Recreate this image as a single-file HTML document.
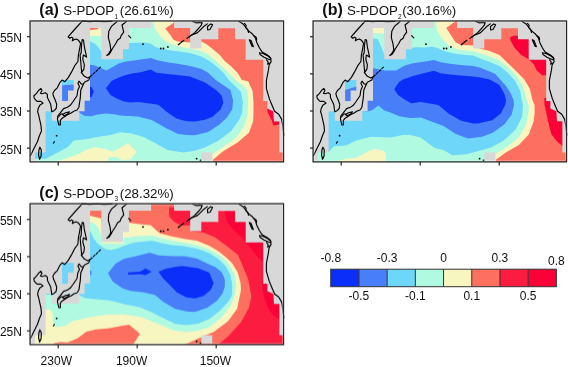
<!DOCTYPE html><html><head><meta charset="utf-8"><style>html,body{margin:0;padding:0;background:#fff;width:568px;height:367px;overflow:hidden}svg{display:block}</style></head><body>
<svg width="568" height="367" viewBox="0 0 568 367">
<rect width="568" height="367" fill="#fff"/>
<g transform="translate(0,0)">
<rect x="30" y="21" width="253" height="141" fill="#D8D8D8"/>
<clipPath id="ma"><polygon points="35.0,161.9 35.0,152.5 45.6,152.5 45.6,111.2 84.6,111.2 84.6,100.7 90.0,100.7 90.0,28.0 151.1,28.0 151.1,21.0 174.1,21.0 174.1,28.0 190.2,28.0 190.2,48.6 201.3,48.6 201.3,39.3 218.3,39.3 218.3,28.2 235.0,28.2 235.0,39.3 245.7,39.3 245.7,59.7 263.2,59.7 263.2,100.9 267.4,100.9 267.4,108.5 273.4,111.3 274.0,121.2 279.4,121.2 279.4,152.6 283.5,152.6 283.5,161.9 35.0,161.9"/></clipPath>
<g clip-path="url(#ma)" style="will-change:transform">
<rect x="0" y="0" width="600" height="400" fill="#FD6F5E"/>
<polygon points="267.4,108.5 273.4,111.3 274.0,121.6 279.4,121.6 279.4,124.5 273.4,125.5 271.8,120.5 269.6,116.2 267.4,111.8" fill="#FA0238"/>
<polygon points="20.0,30.3 89.8,30.3 98.2,29.0 98.2,27.0 101.3,27.0 101.3,15.0 174.0,15.0 173.4,22.9 165.2,28.4 170.1,34.4 173.4,39.8 177.7,41.4 189.7,42.5 201.5,41.6 207.0,44.4 213.5,49.8 220.1,55.3 224.4,60.7 231.0,66.2 237.5,72.7 241.9,80.0 248.2,81.3 252.6,91.0 253.5,102.6 253.5,113.2 253.1,121.4 249.0,132.8 237.6,142.6 222.8,151.6 213.0,159.8 212.0,170.0 20.0,170.0" fill="#F8F6C0"/>
<polygon points="20.0,36.0 101.0,36.0 101.3,15.0 153.2,15.0 154.8,28.9 159.2,34.4 163.5,39.8 169.0,43.1 177.7,46.5 189.7,48.5 195.0,49.6 201.5,50.9 209.2,55.3 216.8,61.8 224.4,68.4 231.0,74.9 235.3,80.0 241.1,84.0 247.3,90.1 248.2,102.6 247.4,114.8 244.1,126.3 235.9,137.7 224.5,145.9 212.2,154.1 210.0,170.0 20.0,170.0" fill="#B0FAE2"/>
<polygon points="58.0,165.0 59.5,160.8 68.1,157.7 78.0,154.3 86.1,149.9 94.9,147.3 105.5,149.0 112.5,151.7 121.3,147.3 127.9,142.9 136.7,151.7 130.6,159.6 122.0,160.0 117.8,157.5 109.0,157.5 106.0,165.0" fill="#F8F6C0"/>
<polygon points="109.0,165.0 109.0,157.3 117.8,157.3 119.0,165.0" fill="#B0FAE2"/>
<polygon points="20.0,41.6 90.3,41.6 94.6,43.4 98.3,47.1 101.3,51.4 103.0,51.4 103.0,43.0 128.9,43.0 145.0,42.5 150.5,43.6 155.9,47.2 166.8,49.8 177.7,51.2 190.0,53.0 195.0,54.4 201.5,56.4 209.2,60.7 216.8,66.7 223.4,72.7 228.8,80.0 234.0,85.0 241.1,91.9 242.9,102.6 242.0,113.2 239.2,119.7 231.0,131.2 217.9,141.0 204.8,147.6 195.0,150.8 183.4,152.5 167.5,149.9 155.2,142.9 142.9,136.7 130.6,133.2 120.0,132.3 110.7,134.9 98.4,136.7 86.1,139.3 78.0,140.0 73.8,140.5 68.1,146.7 57.9,152.5 45.6,158.7 20.0,158.7" fill="#6ED6F8"/>
<polygon points="84.0,64.5 90.2,64.8 95.0,65.6 101.2,68.3 106.5,70.5 112.6,67.0 118.8,63.4 125.9,61.5 132.0,60.8 140.6,59.6 151.1,58.0 156.4,60.1 167.0,62.3 177.5,63.8 190.0,66.0 195.0,67.3 201.5,68.9 208.1,72.7 215.7,80.0 221.6,84.0 230.5,90.1 233.1,100.8 232.2,109.6 226.9,117.5 219.5,124.6 208.1,132.0 195.0,135.3 186.9,134.9 178.1,134.0 165.8,127.9 151.7,120.0 137.6,116.4 120.0,115.6 116.2,114.6 106.4,113.5 97.6,114.6 91.1,116.3 84.5,115.7 79.1,112.4 75.0,112.0 75.0,64.0" fill="#487EF7"/>
<polygon points="105.9,88.3 111.5,81.0 118.8,77.5 125.0,75.3 132.0,73.6 140.6,72.3 150.6,69.6 156.4,72.8 167.0,73.9 177.5,74.9 190.0,76.5 205.0,82.5 216.0,90.0 221.6,95.5 223.4,102.6 220.7,109.6 216.3,113.2 212.7,116.7 204.8,119.7 195.0,121.5 187.3,121.2 181.6,120.0 176.6,118.4 169.3,113.8 166.0,111.3 158.7,105.0 155.4,104.2 138.0,102.1 130.3,102.6 123.8,101.5 116.2,98.3 110.5,95.0" fill="#0B2FF8"/>
<polygon points="89.0,86.5 91.5,87.0 93.8,91.5 91.5,97.2 89.0,97.2" fill="#0B2FF8"/>
</g>
<polygon points="62.1,79.9 73.7,79.9 73.7,84.4 62.1,85.2" fill="#6ED6F8"/>
<polygon points="62.1,85.2 73.7,84.4 73.7,90.5 68.0,90.5 68.0,101.0 62.1,101.0" fill="#487EF7"/>
<polygon points="101.3,27.0 128.9,27.0 128.9,49.2 123.0,49.2 123.0,59.3 101.3,59.3" fill="#D8D8D8"/>
<polygon points="51.8,111.2 79.3,111.2 79.3,120.8 51.8,120.8" fill="#D8D8D8"/>
<polygon points="201.3,152.5 212.3,152.5 212.3,160.8 201.3,160.8" fill="#D8D8D8"/>
<g>
<polyline points="112.0,21.4 104.0,21.6 96.0,21.3 90.0,21.6 82.2,21.1 75.0,29.0 68.1,36.9 69.7,38.3 71.5,37.2 73.0,38.0 72.3,40.8 74.5,39.5 76.3,39.1 78.4,40.2 80.6,43.4 79.5,49.4 78.4,55.0 77.9,61.5 74.6,65.9 71.3,72.4 68.1,77.9 64.8,81.7 62.1,80.1 60.0,82.4 58.9,84.5 57.3,87.8 54.5,90.5 52.9,93.3 53.4,96.0 55.1,99.8 56.7,104.2 56.2,108.5 54.0,110.7 51.8,111.8 51.3,108.5 50.7,104.2 49.1,100.9 47.4,97.6 47.4,94.4 45.3,92.7 42.0,93.8 40.4,93.3 42.0,90.5 40.9,88.4 38.5,90.5 36.5,93.3 33.8,96.0 34.4,98.7 37.1,101.4 40.9,101.4 43.1,103.1 39.8,105.3 38.2,108.5 37.6,111.8 38.7,115.1 39.3,118.0 40.9,125.0 41.2,127.9 41.5,131.0 39.4,135.7 37.5,141.5 33.7,149.1 30.6,155.5" fill="none" stroke="#000" stroke-width="1.15" stroke-linejoin="round" stroke-linecap="round"/>
<polyline points="82.2,39.6 83.5,40.0 84.4,47.2 86.6,57.1 83.3,55.0 82.8,59.4 84.4,64.8 83.9,69.2 81.7,72.4 81.2,67.0 80.1,55.0 81.2,52.7 81.5,45.0 82.2,39.6" fill="none" stroke="#000" stroke-width="1.15" stroke-linejoin="round" stroke-linecap="round"/>
<polyline points="117.1,21.5 111.4,26.4 108.8,31.2 108.3,37.4 110.1,44.4 110.8,50.0 108.5,54.0 106.8,55.5 108.8,54.6 111.0,51.5 112.3,48.8 115.8,43.5 117.6,40.0 120.2,38.2 121.1,35.6 123.7,32.1 122.9,28.6 122.0,25.0 126.4,21.5" fill="none" stroke="#000" stroke-width="1.15" stroke-linejoin="round" stroke-linecap="round"/>
<polyline points="81.2,72.4 84.4,76.3 87.7,77.9 89.9,76.8 88.8,80.1 84.4,82.2 83.3,84.4 80.8,90.0 80.3,97.6 78.9,107.2 77.0,110.0 74.1,111.0 71.2,112.9 67.4,114.8 64.5,116.7 61.7,118.6 60.3,120.5 60.3,125.0 58.8,125.0 57.4,118.6 57.9,115.8 60.3,112.9 63.6,108.6 67.4,107.2 70.3,105.3 73.1,101.5 77.0,95.7 77.9,90.0 79.5,86.6 77.9,83.3 79.0,81.2 81.2,83.9 83.3,84.4" fill="none" stroke="#000" stroke-width="1.15" stroke-linejoin="round" stroke-linecap="round"/>
<polyline points="62.5,114.5 65.5,112.8 69.5,111.8 67.5,114.0 64.0,115.8 62.5,114.5" fill="none" stroke="#000" stroke-width="1.15" stroke-linejoin="round" stroke-linecap="round"/>
<polyline points="58.5,117.0 60.5,114.5 62.0,113.8" fill="none" stroke="#000" stroke-width="1.15" stroke-linejoin="round" stroke-linecap="round"/>
<polyline points="39.9,147.2 41.3,150.0 41.1,156.0 39.6,159.3 38.6,155.0 38.9,150.0 39.9,147.2" fill="none" stroke="#000" stroke-width="1.15" stroke-linejoin="round" stroke-linecap="round"/>
<polyline points="239.1,21.4 243.2,24.1 245.9,27.5 248.6,30.9 252.7,34.3 255.4,37.8 256.8,42.5 259.5,48.0 262.2,52.1 267.0,54.8 270.4,57.5 271.1,61.6 269.1,65.0 268.4,70.2 266.4,80.5 266.4,88.7 269.4,98.9 271.5,104.0 274.6,111.2 278.7,114.2 281.7,119.4 282.7,125.5 283.8,135.0" fill="none" stroke="#000" stroke-width="1.15" stroke-linejoin="round" stroke-linecap="round"/>
<polyline points="244.5,23.4 246.2,25.5 245.6,27.6 247.6,29.5 248.6,32.5" fill="none" stroke="#000" stroke-width="1.15" stroke-linejoin="round" stroke-linecap="round"/>
<polyline points="254.0,35.7 256.3,37.4 256.6,39.8" fill="none" stroke="#000" stroke-width="1.15" stroke-linejoin="round" stroke-linecap="round"/>
<polyline points="249.3,39.8 251.0,40.5 253.4,46.6 252.0,46.2 249.3,39.8" fill="none" stroke="#000" stroke-width="1.15" stroke-linejoin="round" stroke-linecap="round"/>
<polyline points="259.5,52.7 263.0,53.5 268.0,56.0 271.1,58.9 269.0,59.6 264.0,57.2 260.0,54.6 259.5,52.7" fill="none" stroke="#000" stroke-width="1.15" stroke-linejoin="round" stroke-linecap="round"/>
<polyline points="266.6,59.8 268.2,62.0 267.6,64.2 269.4,63.2" fill="none" stroke="#000" stroke-width="1.15" stroke-linejoin="round" stroke-linecap="round"/>
<polyline points="186.9,38.4 194.7,32.6 199.0,28.0 201.5,24.8 202.0,22.4" fill="none" stroke="#000" stroke-width="1.15" stroke-linejoin="round" stroke-linecap="round"/>
<polyline points="188.5,37.5 190.8,35.5 197.6,32.6 203.4,26.8 207.3,23.9" fill="none" stroke="#000" stroke-width="1.15" stroke-linejoin="round" stroke-linecap="round"/>
<polyline points="192.7,21.5 196.6,22.9 199.5,22.4 202.0,22.9" fill="none" stroke="#000" stroke-width="1.15" stroke-linejoin="round" stroke-linecap="round"/>
<polyline points="207.5,26.5 210.8,23.9 212.6,24.8 210.0,29.5 207.6,30.0 207.5,26.5" fill="none" stroke="#000" stroke-width="1.15" stroke-linejoin="round" stroke-linecap="round"/>
<polyline points="90.5,76.5 101.5,66.2" fill="none" stroke="#000" stroke-width="1.1" stroke-linejoin="round" stroke-linecap="round" stroke-dasharray="2.2,1.6"/>
<polyline points="178.3,44.7 183.7,40.4" fill="none" stroke="#000" stroke-width="1.3" stroke-linejoin="round" stroke-linecap="round" stroke-dasharray="2.2,1.2"/>
<polyline points="128.6,35.6 130.8,37.8" fill="none" stroke="#000" stroke-width="1.1" stroke-linejoin="round" stroke-linecap="round"/>
<polyline points="53.4,143.2 54.4,141.6" fill="none" stroke="#000" stroke-width="1.1" stroke-linejoin="round" stroke-linecap="round"/>
<circle cx="143" cy="44.2" r="0.9" fill="#000"/>
<circle cx="160.8" cy="48.5" r="0.9" fill="#000"/>
<circle cx="163.5" cy="48.5" r="0.9" fill="#000"/>
<circle cx="167.9" cy="46.9" r="0.9" fill="#000"/>
<circle cx="196.6" cy="158.7" r="0.9" fill="#000"/>
<circle cx="200.5" cy="160.5" r="0.9" fill="#000"/>
<circle cx="56.6" cy="135.7" r="0.9" fill="#000"/>
</g>
<rect x="31.05" y="21.95" width="251.5" height="138.95" fill="none" stroke="#fff" stroke-width="0.7" stroke-opacity="0.55"/>
<rect x="30.05" y="20.95" width="253.5" height="140.95" fill="none" stroke="#262626" stroke-width="1.25"/>
<line x1="27" y1="36.7" x2="30" y2="36.7" stroke="#222" stroke-width="1.2"/>
<line x1="27" y1="73.9" x2="30" y2="73.9" stroke="#222" stroke-width="1.2"/>
<line x1="27" y1="111.0" x2="30" y2="111.0" stroke="#222" stroke-width="1.2"/>
<line x1="27" y1="148.1" x2="30" y2="148.1" stroke="#222" stroke-width="1.2"/>
<line x1="58.2" y1="162" x2="58.2" y2="165.5" stroke="#222" stroke-width="1.2"/>
<line x1="137.2" y1="162" x2="137.2" y2="165.5" stroke="#222" stroke-width="1.2"/>
<line x1="216.2" y1="162" x2="216.2" y2="165.5" stroke="#222" stroke-width="1.2"/>
</g>
<g transform="translate(283,0)">
<rect x="30" y="21" width="253" height="141" fill="#D8D8D8"/>
<clipPath id="mb"><polygon points="35.0,161.9 35.0,152.5 45.6,152.5 45.6,111.2 84.6,111.2 84.6,100.7 90.0,100.7 90.0,28.0 151.1,28.0 151.1,21.0 174.1,21.0 174.1,28.0 190.2,28.0 190.2,48.6 201.3,48.6 201.3,39.3 218.3,39.3 218.3,28.2 235.0,28.2 235.0,39.3 245.7,39.3 245.7,59.7 263.2,59.7 263.2,100.9 267.4,100.9 267.4,108.5 273.4,111.3 274.0,121.2 279.4,121.2 279.4,152.6 283.5,152.6 283.5,161.9 35.0,161.9"/></clipPath>
<g clip-path="url(#mb)" style="will-change:transform">
<rect x="-283" y="0" width="600" height="400" fill="#FD6F5E"/>
<polygon points="227.3,37.0 231.0,35.8 267.0,35.8 267.0,75.2 259.2,75.2 253.5,70.3 251.0,64.5 246.1,59.6 237.9,54.7 231.4,47.4 227.3,40.0" fill="#FA0238"/>
<polygon points="261.3,98.0 287.0,98.0 287.0,147.0 279.3,145.9 273.6,141.0 268.6,134.5 266.2,126.3 263.7,114.8 261.5,105.0" fill="#FA0238"/>
<polygon points="17.0,15.0 172.0,15.0 172.0,21.5 163.3,28.0 168.2,35.6 172.5,42.2 178.0,44.9 190.0,45.4 197.4,48.8 205.2,50.5 216.5,55.0 224.8,62.9 233.0,71.1 241.2,79.3 246.9,89.1 249.4,100.0 251.6,105.0 251.7,113.0 250.6,121.4 245.7,134.5 235.9,145.1 222.8,152.5 213.0,159.8 212.0,170.0 17.0,170.0" fill="#F8F6C0"/>
<polygon points="17.0,33.0 90.0,33.0 101.0,33.5 101.3,15.0 152.9,15.0 152.9,21.5 154.0,30.2 158.4,37.8 163.8,43.3 165.9,46.0 172.0,48.5 177.5,50.1 190.0,51.2 197.4,53.6 206.8,56.5 216.5,60.4 226.5,68.6 234.6,77.6 240.4,87.5 243.6,100.0 245.7,105.0 245.7,111.5 243.3,124.6 235.9,136.9 224.5,146.7 212.2,154.1 211.0,170.0 17.0,170.0" fill="#B0FAE2"/>
<polygon points="54.4,163.0 54.4,161.3 63.2,158.7 73.8,157.8 84.3,151.7 91.4,149.0 100.2,150.8 102.8,153.4 102.8,163.0" fill="#F8F6C0"/>
<polygon points="17.0,38.5 90.3,38.5 94.6,39.1 98.3,47.1 101.3,54.4 103.0,54.4 112.0,50.0 122.0,49.0 132.6,47.2 142.0,47.6 148.5,46.5 152.9,47.6 154.3,48.0 161.7,51.2 172.2,53.8 182.8,54.9 190.0,55.4 197.4,58.5 206.8,62.0 216.5,65.9 224.8,72.7 232.2,80.9 237.1,90.7 238.7,100.0 240.0,105.0 239.2,116.5 232.6,129.5 221.2,140.2 208.1,147.6 195.5,151.0 183.4,154.3 169.3,155.2 160.5,149.9 151.7,148.1 137.6,137.6 127.0,134.9 120.0,135.0 107.2,137.6 87.9,136.7 73.8,140.2 63.2,145.5 50.9,146.2 45.6,152.0 17.0,152.0" fill="#6ED6F8"/>
<polygon points="77.0,64.0 90.0,68.2 102.3,70.4 113.0,70.6 122.0,65.5 130.0,63.3 140.6,61.7 151.1,60.1 157.5,62.3 167.0,63.8 177.5,64.9 190.0,66.0 197.4,67.8 207.0,71.7 212.0,73.8 217.7,80.0 223.0,86.0 227.5,93.0 230.5,100.0 231.0,105.0 228.6,114.8 221.2,124.6 209.7,132.8 199.2,136.7 185.1,138.5 172.8,134.0 160.5,126.1 146.4,120.8 138.0,117.4 127.1,117.9 116.2,116.3 107.4,112.4 100.9,110.3 95.4,105.4 88.9,110.3 84.5,111.4 77.0,111.0" fill="#487EF7"/>
<polygon points="111.2,89.2 116.0,82.0 120.0,79.5 130.0,76.0 140.6,73.3 151.1,70.7 157.5,73.3 167.0,74.4 177.5,75.5 190.0,76.5 197.4,77.4 206.8,79.5 216.5,84.9 221.5,94.0 223.0,100.0 222.5,104.3 218.0,113.2 209.2,120.3 195.0,123.5 190.4,123.5 178.1,120.8 165.8,113.8 155.2,105.0 138.0,102.1 128.2,103.2 121.6,99.4 115.1,95.0" fill="#0B2FF8"/>
</g>
<polygon points="62.1,79.9 73.3,79.9 73.3,86.4 62.1,90.1" fill="#6ED6F8"/>
<polygon points="62.1,90.1 73.3,86.4 73.3,90.5 67.6,90.5 67.6,101.1 62.1,101.1" fill="#487EF7"/>
<polygon points="101.3,27.0 128.9,27.0 128.9,49.2 123.0,49.2 123.0,59.3 101.3,59.3" fill="#D8D8D8"/>
<polygon points="51.8,111.2 79.3,111.2 79.3,120.8 51.8,120.8" fill="#D8D8D8"/>
<polygon points="201.3,152.5 212.3,152.5 212.3,160.8 201.3,160.8" fill="#D8D8D8"/>
<g>
<polyline points="112.0,21.4 104.0,21.6 96.0,21.3 90.0,21.6 82.2,21.1 75.0,29.0 68.1,36.9 69.7,38.3 71.5,37.2 73.0,38.0 72.3,40.8 74.5,39.5 76.3,39.1 78.4,40.2 80.6,43.4 79.5,49.4 78.4,55.0 77.9,61.5 74.6,65.9 71.3,72.4 68.1,77.9 64.8,81.7 62.1,80.1 60.0,82.4 58.9,84.5 57.3,87.8 54.5,90.5 52.9,93.3 53.4,96.0 55.1,99.8 56.7,104.2 56.2,108.5 54.0,110.7 51.8,111.8 51.3,108.5 50.7,104.2 49.1,100.9 47.4,97.6 47.4,94.4 45.3,92.7 42.0,93.8 40.4,93.3 42.0,90.5 40.9,88.4 38.5,90.5 36.5,93.3 33.8,96.0 34.4,98.7 37.1,101.4 40.9,101.4 43.1,103.1 39.8,105.3 38.2,108.5 37.6,111.8 38.7,115.1 39.3,118.0 40.9,125.0 41.2,127.9 41.5,131.0 39.4,135.7 37.5,141.5 33.7,149.1 30.6,155.5" fill="none" stroke="#000" stroke-width="1.15" stroke-linejoin="round" stroke-linecap="round"/>
<polyline points="82.2,39.6 83.5,40.0 84.4,47.2 86.6,57.1 83.3,55.0 82.8,59.4 84.4,64.8 83.9,69.2 81.7,72.4 81.2,67.0 80.1,55.0 81.2,52.7 81.5,45.0 82.2,39.6" fill="none" stroke="#000" stroke-width="1.15" stroke-linejoin="round" stroke-linecap="round"/>
<polyline points="117.1,21.5 111.4,26.4 108.8,31.2 108.3,37.4 110.1,44.4 110.8,50.0 108.5,54.0 106.8,55.5 108.8,54.6 111.0,51.5 112.3,48.8 115.8,43.5 117.6,40.0 120.2,38.2 121.1,35.6 123.7,32.1 122.9,28.6 122.0,25.0 126.4,21.5" fill="none" stroke="#000" stroke-width="1.15" stroke-linejoin="round" stroke-linecap="round"/>
<polyline points="81.2,72.4 84.4,76.3 87.7,77.9 89.9,76.8 88.8,80.1 84.4,82.2 83.3,84.4 80.8,90.0 80.3,97.6 78.9,107.2 77.0,110.0 74.1,111.0 71.2,112.9 67.4,114.8 64.5,116.7 61.7,118.6 60.3,120.5 60.3,125.0 58.8,125.0 57.4,118.6 57.9,115.8 60.3,112.9 63.6,108.6 67.4,107.2 70.3,105.3 73.1,101.5 77.0,95.7 77.9,90.0 79.5,86.6 77.9,83.3 79.0,81.2 81.2,83.9 83.3,84.4" fill="none" stroke="#000" stroke-width="1.15" stroke-linejoin="round" stroke-linecap="round"/>
<polyline points="62.5,114.5 65.5,112.8 69.5,111.8 67.5,114.0 64.0,115.8 62.5,114.5" fill="none" stroke="#000" stroke-width="1.15" stroke-linejoin="round" stroke-linecap="round"/>
<polyline points="58.5,117.0 60.5,114.5 62.0,113.8" fill="none" stroke="#000" stroke-width="1.15" stroke-linejoin="round" stroke-linecap="round"/>
<polyline points="39.9,147.2 41.3,150.0 41.1,156.0 39.6,159.3 38.6,155.0 38.9,150.0 39.9,147.2" fill="none" stroke="#000" stroke-width="1.15" stroke-linejoin="round" stroke-linecap="round"/>
<polyline points="239.1,21.4 243.2,24.1 245.9,27.5 248.6,30.9 252.7,34.3 255.4,37.8 256.8,42.5 259.5,48.0 262.2,52.1 267.0,54.8 270.4,57.5 271.1,61.6 269.1,65.0 268.4,70.2 266.4,80.5 266.4,88.7 269.4,98.9 271.5,104.0 274.6,111.2 278.7,114.2 281.7,119.4 282.7,125.5 283.8,135.0" fill="none" stroke="#000" stroke-width="1.15" stroke-linejoin="round" stroke-linecap="round"/>
<polyline points="244.5,23.4 246.2,25.5 245.6,27.6 247.6,29.5 248.6,32.5" fill="none" stroke="#000" stroke-width="1.15" stroke-linejoin="round" stroke-linecap="round"/>
<polyline points="254.0,35.7 256.3,37.4 256.6,39.8" fill="none" stroke="#000" stroke-width="1.15" stroke-linejoin="round" stroke-linecap="round"/>
<polyline points="249.3,39.8 251.0,40.5 253.4,46.6 252.0,46.2 249.3,39.8" fill="none" stroke="#000" stroke-width="1.15" stroke-linejoin="round" stroke-linecap="round"/>
<polyline points="259.5,52.7 263.0,53.5 268.0,56.0 271.1,58.9 269.0,59.6 264.0,57.2 260.0,54.6 259.5,52.7" fill="none" stroke="#000" stroke-width="1.15" stroke-linejoin="round" stroke-linecap="round"/>
<polyline points="266.6,59.8 268.2,62.0 267.6,64.2 269.4,63.2" fill="none" stroke="#000" stroke-width="1.15" stroke-linejoin="round" stroke-linecap="round"/>
<polyline points="186.9,38.4 194.7,32.6 199.0,28.0 201.5,24.8 202.0,22.4" fill="none" stroke="#000" stroke-width="1.15" stroke-linejoin="round" stroke-linecap="round"/>
<polyline points="188.5,37.5 190.8,35.5 197.6,32.6 203.4,26.8 207.3,23.9" fill="none" stroke="#000" stroke-width="1.15" stroke-linejoin="round" stroke-linecap="round"/>
<polyline points="192.7,21.5 196.6,22.9 199.5,22.4 202.0,22.9" fill="none" stroke="#000" stroke-width="1.15" stroke-linejoin="round" stroke-linecap="round"/>
<polyline points="207.5,26.5 210.8,23.9 212.6,24.8 210.0,29.5 207.6,30.0 207.5,26.5" fill="none" stroke="#000" stroke-width="1.15" stroke-linejoin="round" stroke-linecap="round"/>
<polyline points="90.5,76.5 101.5,66.2" fill="none" stroke="#000" stroke-width="1.1" stroke-linejoin="round" stroke-linecap="round" stroke-dasharray="2.2,1.6"/>
<polyline points="178.3,44.7 183.7,40.4" fill="none" stroke="#000" stroke-width="1.3" stroke-linejoin="round" stroke-linecap="round" stroke-dasharray="2.2,1.2"/>
<polyline points="128.6,35.6 130.8,37.8" fill="none" stroke="#000" stroke-width="1.1" stroke-linejoin="round" stroke-linecap="round"/>
<polyline points="53.4,143.2 54.4,141.6" fill="none" stroke="#000" stroke-width="1.1" stroke-linejoin="round" stroke-linecap="round"/>
<circle cx="143" cy="44.2" r="0.9" fill="#000"/>
<circle cx="160.8" cy="48.5" r="0.9" fill="#000"/>
<circle cx="163.5" cy="48.5" r="0.9" fill="#000"/>
<circle cx="167.9" cy="46.9" r="0.9" fill="#000"/>
<circle cx="196.6" cy="158.7" r="0.9" fill="#000"/>
<circle cx="200.5" cy="160.5" r="0.9" fill="#000"/>
<circle cx="56.6" cy="135.7" r="0.9" fill="#000"/>
</g>
<rect x="31.05" y="21.95" width="251.5" height="138.95" fill="none" stroke="#fff" stroke-width="0.7" stroke-opacity="0.55"/>
<rect x="30.05" y="20.95" width="253.5" height="140.95" fill="none" stroke="#262626" stroke-width="1.25"/>
<line x1="27" y1="36.7" x2="30" y2="36.7" stroke="#222" stroke-width="1.2"/>
<line x1="27" y1="73.9" x2="30" y2="73.9" stroke="#222" stroke-width="1.2"/>
<line x1="27" y1="111.0" x2="30" y2="111.0" stroke="#222" stroke-width="1.2"/>
<line x1="27" y1="148.1" x2="30" y2="148.1" stroke="#222" stroke-width="1.2"/>
<line x1="58.2" y1="162" x2="58.2" y2="165.5" stroke="#222" stroke-width="1.2"/>
<line x1="137.2" y1="162" x2="137.2" y2="165.5" stroke="#222" stroke-width="1.2"/>
<line x1="216.2" y1="162" x2="216.2" y2="165.5" stroke="#222" stroke-width="1.2"/>
</g>
<g transform="translate(0,182.7)">
<rect x="30" y="21" width="253" height="141" fill="#D8D8D8"/>
<clipPath id="mc"><polygon points="35.0,161.9 35.0,152.5 45.6,152.5 45.6,111.2 84.6,111.2 84.6,100.7 90.0,100.7 90.0,28.0 151.1,28.0 151.1,21.0 174.1,21.0 174.1,28.0 190.2,28.0 190.2,48.6 201.3,48.6 201.3,39.3 218.3,39.3 218.3,28.2 235.0,28.2 235.0,39.3 245.7,39.3 245.7,59.7 263.2,59.7 263.2,100.9 267.4,100.9 267.4,108.5 273.4,111.3 274.0,121.2 279.4,121.2 279.4,152.6 283.5,152.6 283.5,161.9 35.0,161.9"/></clipPath>
<g clip-path="url(#mc)" style="will-change:transform">
<rect x="0" y="-182.7" width="600" height="400" fill="#FC1C40"/>
<polygon points="224.0,22.3 300.0,22.3 300.0,147.3 279.3,136.4 273.6,133.1 268.6,126.6 263.7,113.5 262.1,105.3 263.3,87.3 263.5,79.3 258.7,75.5 251.1,65.9 243.4,56.4 232.9,46.8 227.2,39.2 225.5,33.3" fill="#FA0238"/>
<polygon points="20.0,12.3 174.1,12.3 174.1,24.6 169.0,24.6 169.0,31.3 169.8,34.7 174.7,39.6 179.5,42.0 184.4,43.0 190.7,42.5 192.0,48.8 203.4,49.7 214.8,54.5 226.3,63.1 238.0,72.3 243.4,85.0 248.2,96.5 250.1,107.3 251.5,113.5 249.0,124.9 240.8,139.7 228.0,153.7 216.4,163.3 20.0,163.3" fill="#FD6F5E"/>
<polygon points="20.0,33.0 90.0,33.0 101.0,35.7 101.3,39.9 128.9,39.9 139.8,41.5 150.7,42.6 156.1,47.5 160.0,50.7 172.3,53.8 184.5,56.2 196.8,58.1 209.1,63.0 218.0,68.3 225.0,73.8 232.0,80.3 237.7,89.8 240.6,100.3 241.0,107.3 240.0,112.0 237.2,125.9 228.0,138.6 214.1,149.1 197.9,156.0 181.7,163.3 20.0,163.3" fill="#F8F6C0"/>
<polygon points="53.9,163.3 53.9,160.6 60.7,159.2 67.3,159.8 73.8,157.2 78.0,155.3 86.3,149.1 95.6,146.7 109.4,145.6 121.0,143.3 129.1,142.1 134.9,146.7 140.0,151.3 139.4,152.0 132.3,163.3" fill="#FD6F5E"/>
<polygon points="20.0,39.1 90.2,39.1 94.5,41.1 97.9,44.5 100.0,50.0 101.3,53.4 101.3,60.7 123.6,60.7 123.6,55.3 137.7,53.6 151.9,52.7 160.0,55.0 172.3,58.1 184.5,59.9 196.8,62.4 209.1,66.7 220.0,72.8 226.0,78.3 230.5,84.3 234.8,92.6 236.3,102.3 234.9,112.0 230.3,123.6 221.0,135.2 209.4,144.4 197.9,147.9 186.3,149.5 174.7,147.9 163.1,143.3 151.6,138.6 140.0,134.0 123.3,131.7 109.4,131.7 97.9,132.9 86.3,135.2 72.4,138.6 65.5,143.3 56.2,144.4 52.7,139.8 52.7,130.5 50.4,127.1 20.0,127.1" fill="#B0FAE2"/>
<polygon points="20.0,48.2 90.3,48.2 93.4,55.3 97.0,60.3 102.0,64.3 106.0,66.8 111.4,67.3 116.8,65.9 125.0,62.7 134.2,59.8 151.9,58.0 160.0,59.9 172.3,62.4 184.5,63.6 196.8,66.0 200.9,67.3 209.5,70.4 218.1,75.9 225.4,83.2 230.3,91.8 232.2,101.6 232.2,112.3 229.0,118.3 221.0,127.1 209.4,136.3 197.9,141.0 186.3,142.6 174.7,141.0 163.1,135.2 151.6,129.4 140.0,124.8 123.3,121.3 109.4,117.8 97.9,116.7 85.1,115.5 78.2,112.0 20.0,112.0" fill="#6ED6F8"/>
<polygon points="108.0,90.5 115.5,80.9 123.6,76.2 135.9,73.4 149.6,70.0 158.9,72.7 173.1,73.6 185.0,73.4 197.3,75.9 207.1,80.8 215.6,84.5 221.8,89.4 224.8,96.7 224.8,104.1 222.6,110.8 217.1,118.1 207.3,124.9 195.0,129.2 186.3,128.7 174.7,125.9 163.1,119.0 155.0,112.3 142.7,109.6 130.5,108.2 122.3,105.5 112.7,98.7" fill="#487EF7"/>
<polygon points="89.0,87.7 91.4,88.3 91.4,92.3 89.0,92.3" fill="#487EF7"/>
<polygon points="158.5,88.9 166.0,86.0 174.7,84.2 182.0,83.3 197.9,85.4 209.4,90.0 213.6,100.4 210.9,107.1 203.6,113.2 195.0,115.7 186.3,114.8 177.0,109.7 170.1,102.8 163.1,95.8" fill="#0B2FF8"/>
<polygon points="127.7,89.8 140.0,89.1 145.5,85.7 151.6,89.1 145.5,92.5 140.0,91.6 128.4,91.9" fill="#0B2FF8"/>
</g>
<polygon points="62.1,79.9 73.7,79.9 73.7,89.8 68.0,89.8 68.0,101.0 62.1,101.0" fill="#6ED6F8"/>
<polygon points="101.3,27.0 128.9,27.0 128.9,49.2 123.0,49.2 123.0,59.3 101.3,59.3" fill="#D8D8D8"/>
<polygon points="51.8,111.2 79.3,111.2 79.3,120.8 51.8,120.8" fill="#D8D8D8"/>
<polygon points="201.3,152.5 212.3,152.5 212.3,160.8 201.3,160.8" fill="#D8D8D8"/>
<g>
<polyline points="112.0,21.4 104.0,21.6 96.0,21.3 90.0,21.6 82.2,21.1 75.0,29.0 68.1,36.9 69.7,38.3 71.5,37.2 73.0,38.0 72.3,40.8 74.5,39.5 76.3,39.1 78.4,40.2 80.6,43.4 79.5,49.4 78.4,55.0 77.9,61.5 74.6,65.9 71.3,72.4 68.1,77.9 64.8,81.7 62.1,80.1 60.0,82.4 58.9,84.5 57.3,87.8 54.5,90.5 52.9,93.3 53.4,96.0 55.1,99.8 56.7,104.2 56.2,108.5 54.0,110.7 51.8,111.8 51.3,108.5 50.7,104.2 49.1,100.9 47.4,97.6 47.4,94.4 45.3,92.7 42.0,93.8 40.4,93.3 42.0,90.5 40.9,88.4 38.5,90.5 36.5,93.3 33.8,96.0 34.4,98.7 37.1,101.4 40.9,101.4 43.1,103.1 39.8,105.3 38.2,108.5 37.6,111.8 38.7,115.1 39.3,118.0 40.9,125.0 41.2,127.9 41.5,131.0 39.4,135.7 37.5,141.5 33.7,149.1 30.6,155.5" fill="none" stroke="#000" stroke-width="1.15" stroke-linejoin="round" stroke-linecap="round"/>
<polyline points="82.2,39.6 83.5,40.0 84.4,47.2 86.6,57.1 83.3,55.0 82.8,59.4 84.4,64.8 83.9,69.2 81.7,72.4 81.2,67.0 80.1,55.0 81.2,52.7 81.5,45.0 82.2,39.6" fill="none" stroke="#000" stroke-width="1.15" stroke-linejoin="round" stroke-linecap="round"/>
<polyline points="117.1,21.5 111.4,26.4 108.8,31.2 108.3,37.4 110.1,44.4 110.8,50.0 108.5,54.0 106.8,55.5 108.8,54.6 111.0,51.5 112.3,48.8 115.8,43.5 117.6,40.0 120.2,38.2 121.1,35.6 123.7,32.1 122.9,28.6 122.0,25.0 126.4,21.5" fill="none" stroke="#000" stroke-width="1.15" stroke-linejoin="round" stroke-linecap="round"/>
<polyline points="81.2,72.4 84.4,76.3 87.7,77.9 89.9,76.8 88.8,80.1 84.4,82.2 83.3,84.4 80.8,90.0 80.3,97.6 78.9,107.2 77.0,110.0 74.1,111.0 71.2,112.9 67.4,114.8 64.5,116.7 61.7,118.6 60.3,120.5 60.3,125.0 58.8,125.0 57.4,118.6 57.9,115.8 60.3,112.9 63.6,108.6 67.4,107.2 70.3,105.3 73.1,101.5 77.0,95.7 77.9,90.0 79.5,86.6 77.9,83.3 79.0,81.2 81.2,83.9 83.3,84.4" fill="none" stroke="#000" stroke-width="1.15" stroke-linejoin="round" stroke-linecap="round"/>
<polyline points="62.5,114.5 65.5,112.8 69.5,111.8 67.5,114.0 64.0,115.8 62.5,114.5" fill="none" stroke="#000" stroke-width="1.15" stroke-linejoin="round" stroke-linecap="round"/>
<polyline points="58.5,117.0 60.5,114.5 62.0,113.8" fill="none" stroke="#000" stroke-width="1.15" stroke-linejoin="round" stroke-linecap="round"/>
<polyline points="39.9,147.2 41.3,150.0 41.1,156.0 39.6,159.3 38.6,155.0 38.9,150.0 39.9,147.2" fill="none" stroke="#000" stroke-width="1.15" stroke-linejoin="round" stroke-linecap="round"/>
<polyline points="239.1,21.4 243.2,24.1 245.9,27.5 248.6,30.9 252.7,34.3 255.4,37.8 256.8,42.5 259.5,48.0 262.2,52.1 267.0,54.8 270.4,57.5 271.1,61.6 269.1,65.0 268.4,70.2 266.4,80.5 266.4,88.7 269.4,98.9 271.5,104.0 274.6,111.2 278.7,114.2 281.7,119.4 282.7,125.5 283.8,135.0" fill="none" stroke="#000" stroke-width="1.15" stroke-linejoin="round" stroke-linecap="round"/>
<polyline points="244.5,23.4 246.2,25.5 245.6,27.6 247.6,29.5 248.6,32.5" fill="none" stroke="#000" stroke-width="1.15" stroke-linejoin="round" stroke-linecap="round"/>
<polyline points="254.0,35.7 256.3,37.4 256.6,39.8" fill="none" stroke="#000" stroke-width="1.15" stroke-linejoin="round" stroke-linecap="round"/>
<polyline points="249.3,39.8 251.0,40.5 253.4,46.6 252.0,46.2 249.3,39.8" fill="none" stroke="#000" stroke-width="1.15" stroke-linejoin="round" stroke-linecap="round"/>
<polyline points="259.5,52.7 263.0,53.5 268.0,56.0 271.1,58.9 269.0,59.6 264.0,57.2 260.0,54.6 259.5,52.7" fill="none" stroke="#000" stroke-width="1.15" stroke-linejoin="round" stroke-linecap="round"/>
<polyline points="266.6,59.8 268.2,62.0 267.6,64.2 269.4,63.2" fill="none" stroke="#000" stroke-width="1.15" stroke-linejoin="round" stroke-linecap="round"/>
<polyline points="186.9,38.4 194.7,32.6 199.0,28.0 201.5,24.8 202.0,22.4" fill="none" stroke="#000" stroke-width="1.15" stroke-linejoin="round" stroke-linecap="round"/>
<polyline points="188.5,37.5 190.8,35.5 197.6,32.6 203.4,26.8 207.3,23.9" fill="none" stroke="#000" stroke-width="1.15" stroke-linejoin="round" stroke-linecap="round"/>
<polyline points="192.7,21.5 196.6,22.9 199.5,22.4 202.0,22.9" fill="none" stroke="#000" stroke-width="1.15" stroke-linejoin="round" stroke-linecap="round"/>
<polyline points="207.5,26.5 210.8,23.9 212.6,24.8 210.0,29.5 207.6,30.0 207.5,26.5" fill="none" stroke="#000" stroke-width="1.15" stroke-linejoin="round" stroke-linecap="round"/>
<polyline points="90.5,76.5 101.5,66.2" fill="none" stroke="#000" stroke-width="1.1" stroke-linejoin="round" stroke-linecap="round" stroke-dasharray="2.2,1.6"/>
<polyline points="178.3,44.7 183.7,40.4" fill="none" stroke="#000" stroke-width="1.3" stroke-linejoin="round" stroke-linecap="round" stroke-dasharray="2.2,1.2"/>
<polyline points="128.6,35.6 130.8,37.8" fill="none" stroke="#000" stroke-width="1.1" stroke-linejoin="round" stroke-linecap="round"/>
<polyline points="53.4,143.2 54.4,141.6" fill="none" stroke="#000" stroke-width="1.1" stroke-linejoin="round" stroke-linecap="round"/>
<circle cx="143" cy="44.2" r="0.9" fill="#000"/>
<circle cx="160.8" cy="48.5" r="0.9" fill="#000"/>
<circle cx="163.5" cy="48.5" r="0.9" fill="#000"/>
<circle cx="167.9" cy="46.9" r="0.9" fill="#000"/>
<circle cx="196.6" cy="158.7" r="0.9" fill="#000"/>
<circle cx="200.5" cy="160.5" r="0.9" fill="#000"/>
<circle cx="56.6" cy="135.7" r="0.9" fill="#000"/>
</g>
<rect x="31.05" y="21.95" width="251.5" height="138.95" fill="none" stroke="#fff" stroke-width="0.7" stroke-opacity="0.55"/>
<rect x="30.05" y="20.95" width="253.5" height="140.95" fill="none" stroke="#262626" stroke-width="1.25"/>
<line x1="27" y1="36.7" x2="30" y2="36.7" stroke="#222" stroke-width="1.2"/>
<line x1="27" y1="73.9" x2="30" y2="73.9" stroke="#222" stroke-width="1.2"/>
<line x1="27" y1="111.0" x2="30" y2="111.0" stroke="#222" stroke-width="1.2"/>
<line x1="27" y1="148.1" x2="30" y2="148.1" stroke="#222" stroke-width="1.2"/>
<line x1="58.2" y1="162" x2="58.2" y2="165.5" stroke="#222" stroke-width="1.2"/>
<line x1="137.2" y1="162" x2="137.2" y2="165.5" stroke="#222" stroke-width="1.2"/>
<line x1="216.2" y1="162" x2="216.2" y2="165.5" stroke="#222" stroke-width="1.2"/>
</g>
<g style="will-change:transform">
<text x="39.3" y="15.100000000000001" font-family="Liberation Sans, sans-serif" font-weight="bold" font-size="16" fill="#111">(a)</text><text x="63.2" y="15.200000000000001" font-family="Liberation Sans, sans-serif" font-size="13.3" fill="#111">S-PDOP</text><text x="114.4" y="18.7" font-family="Liberation Sans, sans-serif" font-size="6.5" fill="#111">1</text><text x="119.8" y="15.200000000000001" font-family="Liberation Sans, sans-serif" font-size="13.3" fill="#111">(26.61%)</text>
<text x="322.3" y="15.100000000000001" font-family="Liberation Sans, sans-serif" font-weight="bold" font-size="16" fill="#111">(b)</text><text x="346.9" y="15.200000000000001" font-family="Liberation Sans, sans-serif" font-size="13.3" fill="#111">S-PDOP</text><text x="398.09999999999997" y="18.7" font-family="Liberation Sans, sans-serif" font-size="6.5" fill="#111">2</text><text x="402.2" y="15.200000000000001" font-family="Liberation Sans, sans-serif" font-size="13.3" fill="#111">(30.16%)</text>
<text x="39.3" y="197.8" font-family="Liberation Sans, sans-serif" font-weight="bold" font-size="16" fill="#111">(c)</text><text x="63.2" y="197.9" font-family="Liberation Sans, sans-serif" font-size="13.3" fill="#111">S-PDOP</text><text x="114.4" y="201.4" font-family="Liberation Sans, sans-serif" font-size="6.5" fill="#111">3</text><text x="119.8" y="197.9" font-family="Liberation Sans, sans-serif" font-size="13.3" fill="#111">(28.32%)</text>
<text x="21.9" y="42.1" text-anchor="end" font-family="Liberation Sans, sans-serif" font-size="12" fill="#111">55N</text><text x="21.9" y="79.3" text-anchor="end" font-family="Liberation Sans, sans-serif" font-size="12" fill="#111">45N</text><text x="21.9" y="116.4" text-anchor="end" font-family="Liberation Sans, sans-serif" font-size="12" fill="#111">35N</text><text x="21.9" y="153.5" text-anchor="end" font-family="Liberation Sans, sans-serif" font-size="12" fill="#111">25N</text>
<text x="21.9" y="224.8" text-anchor="end" font-family="Liberation Sans, sans-serif" font-size="12" fill="#111">55N</text><text x="21.9" y="262.0" text-anchor="end" font-family="Liberation Sans, sans-serif" font-size="12" fill="#111">45N</text><text x="21.9" y="299.1" text-anchor="end" font-family="Liberation Sans, sans-serif" font-size="12" fill="#111">35N</text><text x="21.9" y="336.2" text-anchor="end" font-family="Liberation Sans, sans-serif" font-size="12" fill="#111">25N</text>
<text x="56.3" y="364.9" text-anchor="middle" font-family="Liberation Sans, sans-serif" font-size="12" fill="#111">230W</text>
<text x="131.6" y="364.9" text-anchor="middle" font-family="Liberation Sans, sans-serif" font-size="12" fill="#111">190W</text>
<text x="215.4" y="364.9" text-anchor="middle" font-family="Liberation Sans, sans-serif" font-size="12" fill="#111">150W</text>
<rect x="330.75" y="269.2" width="28.20" height="17.5" fill="#0B2FF8"/>
<rect x="358.95" y="269.2" width="28.20" height="17.5" fill="#487EF7"/>
<rect x="387.15" y="269.2" width="28.20" height="17.5" fill="#6ED6F8"/>
<rect x="415.35" y="269.2" width="28.20" height="17.5" fill="#B0FAE2"/>
<rect x="443.55" y="269.2" width="28.20" height="17.5" fill="#F8F6C0"/>
<rect x="471.75" y="269.2" width="28.20" height="17.5" fill="#FD6F5E"/>
<rect x="499.95" y="269.2" width="28.20" height="17.5" fill="#FC1C40"/>
<rect x="528.15" y="269.2" width="28.20" height="17.5" fill="#FA0238"/>
<line x1="358.95" y1="269.2" x2="358.95" y2="286.7" stroke="#333" stroke-width="1"/>
<line x1="387.15" y1="269.2" x2="387.15" y2="286.7" stroke="#333" stroke-width="1"/>
<line x1="415.35" y1="269.2" x2="415.35" y2="286.7" stroke="#333" stroke-width="1"/>
<line x1="443.55" y1="269.2" x2="443.55" y2="286.7" stroke="#333" stroke-width="1"/>
<line x1="471.75" y1="269.2" x2="471.75" y2="286.7" stroke="#333" stroke-width="1"/>
<line x1="499.95" y1="269.2" x2="499.95" y2="286.7" stroke="#333" stroke-width="1"/>
<line x1="528.15" y1="269.2" x2="528.15" y2="286.7" stroke="#333" stroke-width="1"/>
<rect x="330.75" y="269.2" width="225.60" height="17.5" fill="none" stroke="#333" stroke-width="1"/>
<text x="330.75" y="262.1" text-anchor="middle" font-family="Liberation Sans, sans-serif" font-size="12" fill="#111">-0.8</text>
<text x="387.15" y="262.1" text-anchor="middle" font-family="Liberation Sans, sans-serif" font-size="12" fill="#111">-0.3</text>
<text x="443.55" y="262.1" text-anchor="middle" font-family="Liberation Sans, sans-serif" font-size="12" fill="#111">0</text>
<text x="499.95" y="262.1" text-anchor="middle" font-family="Liberation Sans, sans-serif" font-size="12" fill="#111">0.3</text>
<text x="556.35" y="265.0" text-anchor="middle" font-family="Liberation Sans, sans-serif" font-size="12" fill="#111">0.8</text>
<text x="358.95" y="300.1" text-anchor="middle" font-family="Liberation Sans, sans-serif" font-size="12" fill="#111">-0.5</text>
<text x="415.35" y="300.1" text-anchor="middle" font-family="Liberation Sans, sans-serif" font-size="12" fill="#111">-0.1</text>
<text x="471.75" y="300.1" text-anchor="middle" font-family="Liberation Sans, sans-serif" font-size="12" fill="#111">0.1</text>
<text x="528.15" y="300.1" text-anchor="middle" font-family="Liberation Sans, sans-serif" font-size="12" fill="#111">0.5</text>
</g>
</svg></body></html>
